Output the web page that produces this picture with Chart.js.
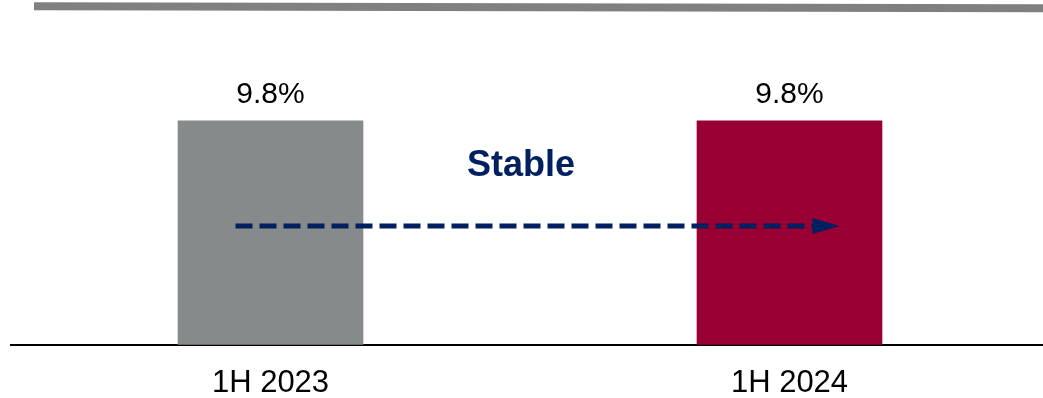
<!doctype html>
<html lang="en">
<head>
<meta charset="utf-8" />
<title>Ratio</title>
<style>
  html,body{margin:0;padding:0;background:#fff;overflow:hidden}
  .wrap{position:relative;width:1049px;height:422px}
</style>
<script src="https://cdn.jsdelivr.net/npm/chart.js@4.4.1/dist/chart.umd.min.js"></script>
</head>
<body>
<div class="wrap"><canvas id="c"></canvas></div>
<script>
const categories = ["1H 2023", "1H 2024"];
const values = [9.8, 9.8];
const barColors = ["#878a8a", "#990033"];
const trendLabel = "Stable";
const trendLevel = 5.2;

// header rule, value labels and the dashed trend arrow
const overlay = {
  id: "overlay",
  afterDraw(chart) {
    const { ctx, scales: { x, y } } = chart;
    ctx.save();
    ctx.strokeStyle = "#808080";
    ctx.lineWidth = 8;
    ctx.beginPath();
    ctx.moveTo(34, 6.3);
    ctx.lineTo(1043, 8.3);
    ctx.stroke();

    ctx.fillStyle = "#000";
    ctx.font = "30px 'Liberation Sans', Arial, sans-serif";
    ctx.textAlign = "center";
    ctx.textBaseline = "alphabetic";
    chart.getDatasetMeta(0).data.forEach((bar, i) => {
      ctx.fillText(values[i].toFixed(1) + "%", bar.x, bar.y - 18);
    });

    const yy = y.getPixelForValue(trendLevel);
    const x0 = x.getPixelForValue(0) - 35;
    const x1 = x.getPixelForValue(1) + 50;
    ctx.strokeStyle = "#002060";
    ctx.fillStyle = "#002060";
    ctx.lineWidth = 5;
    ctx.setLineDash([17, 7]);
    ctx.beginPath();
    ctx.moveTo(x0, yy);
    ctx.lineTo(x1 - 22, yy);
    ctx.stroke();
    ctx.setLineDash([]);
    ctx.beginPath();
    ctx.moveTo(x1, yy);
    ctx.lineTo(x1 - 27, yy - 8);
    ctx.lineTo(x1 - 27, yy + 8);
    ctx.closePath();
    ctx.fill();

    ctx.font = "bold 36px 'Liberation Sans', Arial, sans-serif";
    ctx.fillText(trendLabel, (x.getPixelForValue(0) + x.getPixelForValue(1)) / 2 - 9, 176);
    ctx.restore();
  }
};

new Chart(document.getElementById("c"), {
  type: "bar",
  data: {
    labels: categories,
    datasets: [{ data: values, backgroundColor: barColors, barThickness: 185 }]
  },
  options: {
    responsive: true,
    maintainAspectRatio: false,
    animation: false,
    layout: { padding: { top: 25, left: 11, right: 0, bottom: 0 } },
    plugins: { legend: { display: false }, tooltip: { enabled: false } },
    scales: {
      x: {
        grid: { display: false, drawTicks: false },
        border: { display: true, color: "#000", width: 2 },
        ticks: { color: "#000", padding: 20, font: { family: "'Liberation Sans', Arial, sans-serif", size: 31 } }
      },
      y: {
        display: false,
        min: 0,
        max: 14
      }
    }
  },
  plugins: [overlay]
});
</script>
</body>
</html>
